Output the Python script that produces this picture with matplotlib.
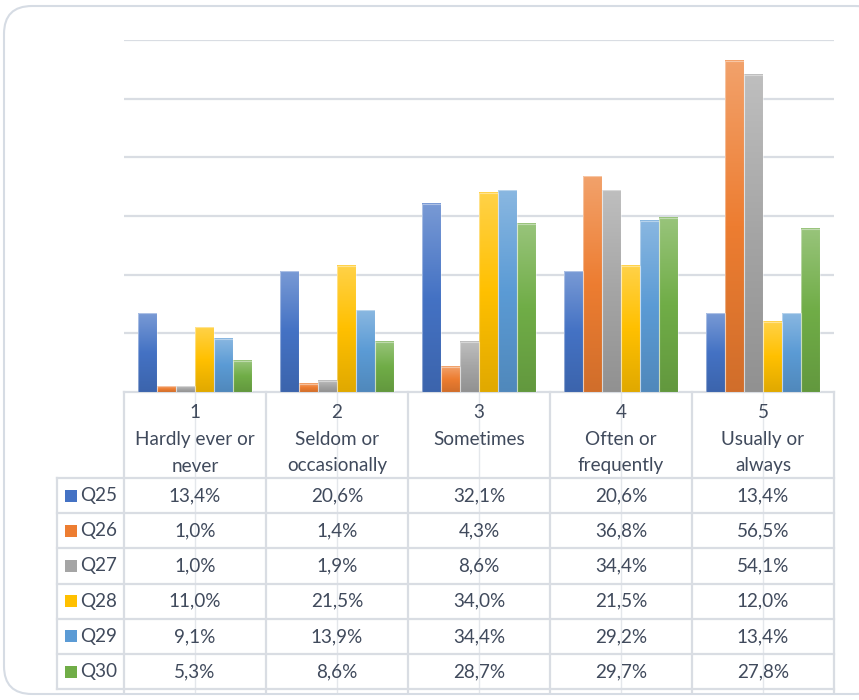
import numpy as np
import matplotlib.pyplot as plt
from matplotlib.colors import LinearSegmentedColormap, to_rgb
from matplotlib.patches import FancyBboxPatch, Rectangle

# Data
categories = ["1\nHardly ever or\nnever", "2\nSeldom or\noccasionally", "3\nSometimes",
              "4\nOften or\nfrequently", "5\nUsually or\nalways"]
series = ["Q25", "Q26", "Q27", "Q28", "Q29", "Q30"]
q25 = [13.4, 20.6, 32.1, 20.6, 13.4]
q26 = [1.0, 1.4, 4.3, 36.8, 56.5]
q27 = [1.0, 1.9, 8.6, 34.4, 54.1]
q28 = [11.0, 21.5, 34.0, 21.5, 12.0]
q29 = [9.1, 13.9, 34.4, 29.2, 13.4]
q30 = [5.3, 8.6, 28.7, 29.7, 27.8]
values = [q25, q26, q27, q28, q29, q30]
colors = ["#4472C4", "#ED7D31", "#A5A5A5", "#FFC000", "#5B9BD5", "#70AD47"]

plt.rcParams['font.family'] = ['Lato', 'DejaVu Sans']
text_col = "#404A5C"
line_col = "#D9DDE3"
fs = 13.6

W, H = 859, 700
fig = plt.figure(figsize=(W / 100, H / 100), dpi=100)

# pixel layout
x_left, x_right = 124, 834
y_top, y_base = 40, 392
lab_left = 57
row_h = 35.2
head_bot = 478

# overlay axes in pixel coords (frame + table)
ov = fig.add_axes([0, 0, 1, 1])
ov.set_xlim(0, W)
ov.set_ylim(H, 0)
ov.axis("off")

frame = FancyBboxPatch((4, 6), W + 20, H - 12, boxstyle="round,pad=0,rounding_size=28",
                       fc="white", ec="#D6DCE4", lw=1.5, zorder=0)
ov.add_patch(frame)

# chart axes
ax = fig.add_axes([x_left / W, 1 - y_base / H, (x_right - x_left) / W, (y_base - y_top) / H])
ax.patch.set_alpha(0)
n = len(categories)
for s in ax.spines.values():
    s.set_visible(False)
ax.set_xticks([])
ax.set_yticks([])
for g in range(10, 70, 10):
    ax.axhline(g, color=line_col, lw=1.6, zorder=0.5)

bw = 0.8 / len(series)
x = np.arange(n)
grad = np.linspace(0, 1, 100).reshape(-1, 1)
for i, (vals, c) in enumerate(zip(values, colors)):
    base = np.array(to_rgb(c))
    light = base + (1 - base) * 0.28
    dark = base * 0.88
    cmap = LinearSegmentedColormap.from_list("g" + series[i], [dark, base, light])
    for j, v in enumerate(vals):
        x0 = x[j] - 0.4 + i * bw
        ax.imshow(grad, extent=(x0, x0 + bw, 0, v), origin="lower", cmap=cmap,
                  aspect="auto", zorder=2, interpolation="bilinear")
        ax.add_patch(Rectangle((x0, 0), bw, v, fill=False, ec=(1, 1, 1, 0.4), lw=0.8, zorder=3))
ax.set_xlim(-0.5, n - 0.5)
ax.set_ylim(0, 60)

# table
col_w = (x_right - x_left) / n
table_bot = head_bot + row_h * len(series)
ov.plot([x_left, x_right], [y_base, y_base], color=line_col, lw=1.6, zorder=1)
for k in range(n + 1):
    xx = x_left + k * col_w
    ov.plot([xx, xx], [y_base, table_bot + 3], color=line_col, lw=1.6, zorder=1)
    if k < n:
        xc = x_left + (k + 0.5) * col_w
        ov.plot([xc, xc], [y_base, table_bot + 3], color=line_col, lw=1.0, alpha=0.7, zorder=1)
ov.plot([lab_left, lab_left], [head_bot, table_bot], color=line_col, lw=1.6, zorder=1)
for r in range(len(series) + 1):
    yy = head_bot + r * row_h
    ov.plot([lab_left, x_right], [yy, yy], color=line_col, lw=1.6, zorder=1)

# header text
for k, cat in enumerate(categories):
    xc = x_left + (k + 0.5) * col_w
    for li, line in enumerate(cat.split("\n")):
        ov.text(xc, 413 + li * 26.5, line, ha="center", va="center", fontsize=fs,
                color=text_col, zorder=4)

# rows
for r, (name, vals, c) in enumerate(zip(series, values, colors)):
    yc = head_bot + (r + 0.5) * row_h
    ov.add_patch(Rectangle((65, yc - 6), 12, 12, fc=c, ec="none", zorder=4))
    ov.text(80, yc, name, ha="left", va="center", fontsize=fs, color=text_col, zorder=4)
    for k, v in enumerate(vals):
        xc = x_left + (k + 0.5) * col_w
        ov.text(xc, yc, f"{v:.1f}%".replace(".", ","), ha="center", va="center",
                fontsize=fs, color=text_col, zorder=4)

fig.savefig("out.png", dpi=100)
